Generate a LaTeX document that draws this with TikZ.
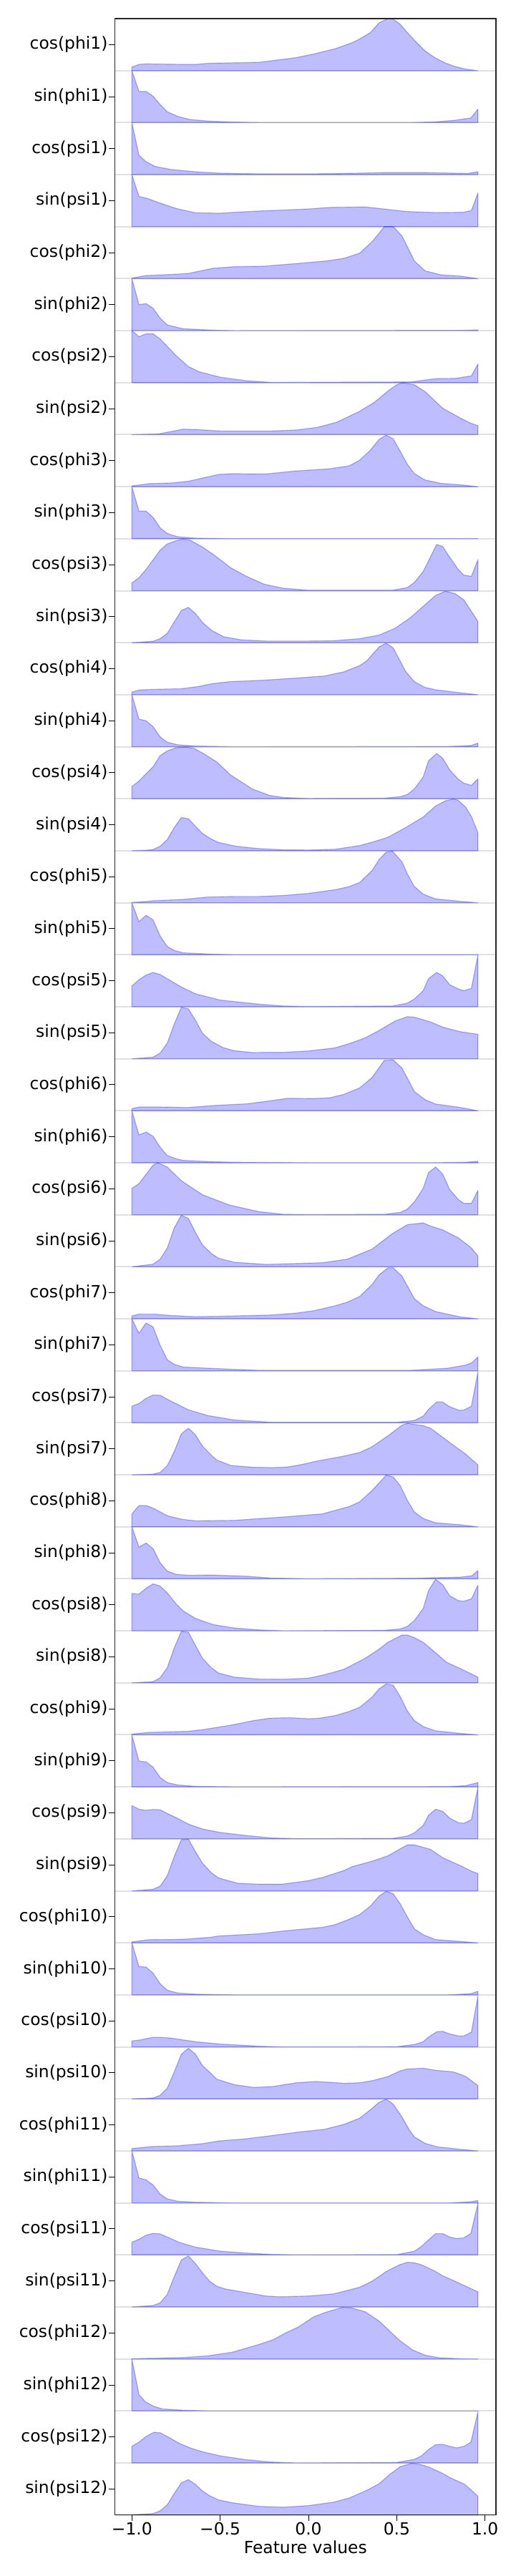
\documentclass[tikz,border=0pt]{standalone}
\usepackage{fontspec}
\setmainfont{DejaVu Sans}
\usepackage{tikz}
\usetikzlibrary{calc}
% one ridge: #1 row number, #2 label, #3 points (x, height in rows)
\newcommand{\tikzRidge}[3]{
  \draw[gridline] (-1.0958,1-#1) -- (1.062,1-#1);
  \begin{scope}[shift={(0,1-#1)}]
    \filldraw[ridge] (-1,0) -- plot coordinates {#3} -- (0.96,0) -- cycle;
  \end{scope}
  \draw[axtick] (-1.0958,1.5-#1) -- ++(-4.2pt,0) node[ylab] (r#1) {#2};
}

\begin{document}
\begin{tikzpicture}[x=123.35pt, y=36.34pt,
  ridge/.style={fill=blue, fill opacity=0.26, draw=blue, draw opacity=0.3, line width=0.6pt, line join=round},
  gridline/.style={draw=black!12, line width=1pt},
  axframe/.style={draw=black!85, line width=0.6pt},
  axtick/.style={draw=black, line width=0.5pt},
  ylab/.style={anchor=east, inner sep=0.7pt, font=\fontsize{11.7}{14}\selectfont},
  xlab/.style={anchor=north, inner sep=1pt, font=\fontsize{11.7}{14}\selectfont}]
  \useasboundingbox (-1.7471,1.358) rectangle (1.1715,-48.174);

  %residue 1
  \tikzRidge{1}{cos(phi1)}{(-1,0.07) (-0.96,0.12) (-0.92,0.13) (-0.71,0.12) (-0.64,0.12) (-0.57,0.14) (-0.42,0.15) (-0.28,0.16) (-0.14,0.22) (-0.07,0.25) (0.03,0.32) (0.15,0.42) (0.25,0.54) (0.29,0.61) (0.35,0.73) (0.40,0.92) (0.45,1) (0.48,0.99) (0.52,0.89) (0.56,0.73) (0.61,0.55) (0.66,0.38) (0.72,0.24) (0.78,0.14) (0.83,0.08) (0.89,0.03) (0.96,0)}
  \tikzRidge{2}{sin(phi1)}{(-1,1) (-0.96,0.6) (-0.92,0.6) (-0.88,0.51) (-0.84,0.35) (-0.80,0.21) (-0.74,0.12) (-0.67,0.06) (-0.57,0.03) (-0.42,0.01) (-0.28,0) (0.58,0) (0.72,0.014) (0.83,0.046) (0.92,0.09) (0.96,0.26)}
  \tikzRidge{3}{cos(psi1)}{(-1,1) (-0.96,0.37) (-0.92,0.25) (-0.87,0.16) (-0.78,0.10) (-0.64,0.055) (-0.5,0.028) (-0.28,0.014) (0,0.014) (0.29,0.028) (0.43,0.04) (0.65,0.04) (0.90,0.023) (0.96,0.055)}
  \tikzRidge{4}{sin(psi1)}{(-1,1) (-0.96,0.58) (-0.91,0.54) (-0.85,0.465) (-0.75,0.35) (-0.64,0.267) (-0.5,0.258) (-0.42,0.276) (-0.28,0.30) (0,0.34) (0.12,0.37) (0.32,0.38) (0.46,0.327) (0.56,0.29) (0.72,0.27) (0.876,0.276) (0.923,0.31) (0.96,0.65)}

  %residue 2
  \tikzRidge{5}{cos(phi2)}{(-1,0.01) (-0.92,0.06) (-0.78,0.08) (-0.68,0.10) (-0.54,0.2) (-0.42,0.23) (-0.25,0.24) (-0.07,0.29) (0.10,0.34) (0.2,0.39) (0.29,0.49) (0.36,0.71) (0.43,1) (0.48,1) (0.53,0.82) (0.60,0.34) (0.66,0.15) (0.75,0.074) (0.86,0.05) (0.96,0)}
  \tikzRidge{6}{sin(phi2)}{(-1,1) (-0.96,0.50) (-0.92,0.52) (-0.88,0.43) (-0.84,0.24) (-0.80,0.11) (-0.71,0.037) (-0.57,0.014) (-0.42,0) (0.86,0.005) (0.96,0.014)}
  \tikzRidge{7}{cos(psi2)}{(-1,1) (-0.96,0.885) (-0.92,0.94) (-0.88,0.94) (-0.84,0.84) (-0.80,0.70) (-0.75,0.52) (-0.68,0.31) (-0.62,0.21) (-0.5,0.105) (-0.35,0.037) (-0.21,0.005) (0.58,0.014) (0.72,0.078) (0.83,0.083) (0.923,0.13) (0.96,0.36)}
  \tikzRidge{8}{sin(psi2)}{(-1,0) (-0.85,0.014) (-0.80,0.046) (-0.71,0.106) (-0.64,0.10) (-0.5,0.07) (-0.21,0.07) (-0.07,0.09) (0.05,0.14) (0.16,0.24) (0.29,0.45) (0.376,0.63) (0.45,0.84) (0.50,0.96) (0.533,1) (0.60,0.96) (0.66,0.83) (0.76,0.51) (0.86,0.32) (0.92,0.22) (0.96,0.175)}

  %residue 3
  \tikzRidge{9}{cos(phi3)}{(-1,0.014) (-0.90,0.06) (-0.78,0.07) (-0.68,0.105) (-0.51,0.235) (-0.44,0.25) (-0.24,0.245) (-0.08,0.30) (0.12,0.345) (0.23,0.40) (0.29,0.51) (0.35,0.70) (0.40,0.91) (0.44,0.99) (0.48,0.92) (0.52,0.68) (0.56,0.43) (0.60,0.25) (0.66,0.13) (0.75,0.064) (0.86,0.037) (0.96,0)}
  \tikzRidge{10}{sin(phi3)}{(-1,1) (-0.96,0.53) (-0.92,0.53) (-0.88,0.41) (-0.84,0.21) (-0.80,0.10) (-0.74,0.037) (-0.64,0.01) (-0.42,0) (0.96,0)}
  \tikzRidge{11}{cos(psi3)}{(-1,0.15) (-0.96,0.25) (-0.92,0.41) (-0.84,0.78) (-0.80,0.90) (-0.75,0.96) (-0.71,0.995) (-0.67,0.97) (-0.60,0.84) (-0.54,0.70) (-0.44,0.44) (-0.35,0.275) (-0.25,0.124) (-0.14,0.046) (0,0.01) (0.476,0.01) (0.56,0.06) (0.60,0.16) (0.65,0.37) (0.726,0.89) (0.76,0.85) (0.80,0.645) (0.85,0.40) (0.88,0.30) (0.923,0.276) (0.96,0.60)}
  \tikzRidge{12}{sin(psi3)}{(-1,0) (-0.88,0.028) (-0.84,0.078) (-0.80,0.18) (-0.72,0.62) (-0.68,0.68) (-0.64,0.56) (-0.60,0.39) (-0.55,0.24) (-0.48,0.115) (-0.38,0.055) (-0.24,0.032) (0,0.032) (0.15,0.04) (0.29,0.078) (0.40,0.147) (0.49,0.276) (0.58,0.49) (0.65,0.70) (0.72,0.91) (0.776,0.99) (0.83,0.945) (0.88,0.825) (0.96,0.41)}

  %residue 4
  \tikzRidge{13}{cos(phi4)}{(-1,0.05) (-0.96,0.09) (-0.91,0.10) (-0.72,0.115) (-0.62,0.16) (-0.55,0.21) (-0.45,0.25) (-0.25,0.28) (-0.05,0.325) (0.09,0.36) (0.20,0.44) (0.29,0.56) (0.33,0.65) (0.40,0.92) (0.44,0.99) (0.48,0.90) (0.55,0.45) (0.60,0.25) (0.66,0.14) (0.72,0.096) (0.86,0.037) (0.96,0)}
  \tikzRidge{14}{sin(phi4)}{(-1,1) (-0.96,0.53) (-0.92,0.50) (-0.88,0.385) (-0.84,0.19) (-0.80,0.087) (-0.74,0.037) (-0.64,0.014) (-0.42,0) (0.79,0.005) (0.92,0.023) (0.96,0.07)}
  \tikzRidge{15}{cos(psi4)}{(-1,0.235) (-0.96,0.34) (-0.92,0.48) (-0.88,0.615) (-0.84,0.83) (-0.80,0.92) (-0.75,0.98) (-0.70,0.995) (-0.65,0.97) (-0.60,0.88) (-0.52,0.71) (-0.44,0.455) (-0.32,0.19) (-0.22,0.064) (-0.14,0.023) (0,0.005) (0.43,0.01) (0.52,0.04) (0.56,0.08) (0.60,0.19) (0.65,0.42) (0.68,0.73) (0.726,0.87) (0.76,0.78) (0.80,0.555) (0.85,0.37) (0.88,0.30) (0.923,0.257) (0.96,0.385)}
  \tikzRidge{16}{sin(psi4)}{(-1,0) (-0.92,0.01) (-0.88,0.023) (-0.84,0.087) (-0.80,0.215) (-0.76,0.445) (-0.72,0.64) (-0.68,0.615) (-0.64,0.47) (-0.60,0.33) (-0.55,0.225) (-0.51,0.16) (-0.41,0.087) (-0.28,0.04) (-0.14,0.018) (0,0.014) (0.15,0.028) (0.29,0.10) (0.376,0.18) (0.45,0.26) (0.55,0.445) (0.65,0.65) (0.72,0.86) (0.776,0.96) (0.82,0.995) (0.846,0.975) (0.89,0.84) (0.924,0.65) (0.96,0.345)}

  %residue 5
  \tikzRidge{17}{cos(phi5)}{(-1,0.005) (-0.88,0.037) (-0.71,0.064) (-0.57,0.11) (-0.42,0.12) (-0.28,0.12) (-0.14,0.14) (0,0.18) (0.15,0.25) (0.23,0.31) (0.29,0.39) (0.36,0.62) (0.40,0.83) (0.44,0.975) (0.476,0.99) (0.53,0.785) (0.56,0.555) (0.60,0.31) (0.65,0.165) (0.72,0.074) (0.86,0.028) (0.96,0)}
  \tikzRidge{18}{sin(phi5)}{(-1,1) (-0.96,0.635) (-0.92,0.76) (-0.88,0.67) (-0.84,0.36) (-0.80,0.16) (-0.76,0.083) (-0.71,0.037) (-0.57,0.014) (-0.42,0) (0.96,0)}
  \tikzRidge{19}{cos(psi5)}{(-1,0.40) (-0.96,0.52) (-0.92,0.61) (-0.88,0.66) (-0.84,0.62) (-0.80,0.54) (-0.72,0.38) (-0.64,0.25) (-0.5,0.128) (-0.28,0.05) (-0.14,0.014) (0,0.005) (0.476,0.014) (0.56,0.07) (0.60,0.15) (0.65,0.31) (0.68,0.54) (0.726,0.66) (0.76,0.595) (0.80,0.425) (0.85,0.34) (0.88,0.31) (0.923,0.355) (0.96,1.0)}
  \tikzRidge{20}{sin(psi5)}{(-1,0) (-0.88,0.032) (-0.84,0.11) (-0.80,0.30) (-0.76,0.67) (-0.72,0.99) (-0.68,0.96) (-0.64,0.74) (-0.60,0.49) (-0.55,0.335) (-0.48,0.21) (-0.42,0.156) (-0.32,0.12) (-0.14,0.124) (0,0.15) (0.15,0.21) (0.23,0.29) (0.32,0.40) (0.40,0.545) (0.49,0.725) (0.56,0.81) (0.60,0.80) (0.69,0.71) (0.76,0.61) (0.86,0.52) (0.96,0.47)}

  %residue 6
  \tikzRidge{21}{cos(phi6)}{(-1,0.04) (-0.96,0.073) (-0.85,0.073) (-0.68,0.064) (-0.52,0.105) (-0.35,0.133) (-0.22,0.19) (-0.12,0.24) (0.03,0.235) (0.12,0.25) (0.20,0.315) (0.29,0.44) (0.36,0.64) (0.43,0.97) (0.48,0.98) (0.53,0.82) (0.60,0.37) (0.66,0.215) (0.72,0.13) (0.86,0.064) (0.96,0)}
  \tikzRidge{22}{sin(phi6)}{(-1,1) (-0.96,0.535) (-0.92,0.59) (-0.88,0.51) (-0.84,0.30) (-0.80,0.14) (-0.75,0.078) (-0.71,0.046) (-0.57,0.023) (-0.42,0.01) (0,0) (0.72,0) (0.89,0.01) (0.96,0.028)}
  \tikzRidge{23}{cos(psi6)}{(-1,0.51) (-0.96,0.60) (-0.924,0.76) (-0.88,0.955) (-0.853,1.0) (-0.80,0.92) (-0.72,0.655) (-0.60,0.385) (-0.45,0.19) (-0.28,0.06) (-0.14,0.01) (0,0.005) (0.43,0.01) (0.52,0.046) (0.56,0.11) (0.60,0.25) (0.65,0.51) (0.68,0.81) (0.72,0.92) (0.76,0.785) (0.80,0.485) (0.85,0.29) (0.88,0.22) (0.923,0.22) (0.96,0.47)}
  \tikzRidge{24}{sin(psi6)}{(-1,0) (-0.88,0.05) (-0.84,0.147) (-0.80,0.36) (-0.76,0.75) (-0.72,0.99) (-0.68,0.93) (-0.64,0.66) (-0.60,0.42) (-0.55,0.257) (-0.51,0.165) (-0.42,0.087) (-0.24,0.046) (0.08,0.078) (0.22,0.147) (0.36,0.34) (0.476,0.64) (0.56,0.81) (0.65,0.845) (0.69,0.785) (0.76,0.71) (0.85,0.555) (0.92,0.37) (0.96,0.21)}

  %residue 7
  \tikzRidge{25}{cos(phi7)}{(-1,0.055) (-0.96,0.09) (-0.87,0.09) (-0.78,0.064) (-0.64,0.04) (-0.42,0.055) (-0.21,0.073) (-0.07,0.11) (0.03,0.155) (0.15,0.25) (0.22,0.32) (0.29,0.43) (0.36,0.66) (0.40,0.845) (0.45,0.98) (0.48,0.98) (0.53,0.82) (0.60,0.385) (0.65,0.25) (0.72,0.14) (0.86,0.037) (0.96,0)}
  \tikzRidge{26}{sin(phi7)}{(-1,1) (-0.96,0.72) (-0.92,0.92) (-0.88,0.845) (-0.84,0.49) (-0.80,0.215) (-0.76,0.124) (-0.71,0.073) (-0.57,0.05) (-0.42,0.028) (-0.28,0.01) (0.58,0.01) (0.79,0.05) (0.89,0.11) (0.926,0.156) (0.96,0.27)}
  \tikzRidge{27}{cos(psi7)}{(-1,0.32) (-0.96,0.37) (-0.92,0.47) (-0.88,0.535) (-0.84,0.53) (-0.78,0.42) (-0.68,0.25) (-0.57,0.14) (-0.42,0.055) (-0.21,0.01) (0.50,0.01) (0.60,0.046) (0.65,0.13) (0.68,0.26) (0.726,0.40) (0.76,0.40) (0.80,0.31) (0.85,0.245) (0.88,0.245) (0.923,0.32) (0.96,0.985)}
  \tikzRidge{28}{sin(psi7)}{(-1,0) (-0.88,0.014) (-0.84,0.046) (-0.80,0.175) (-0.76,0.45) (-0.72,0.79) (-0.68,0.895) (-0.64,0.77) (-0.60,0.55) (-0.55,0.38) (-0.52,0.285) (-0.44,0.18) (-0.32,0.147) (-0.21,0.138) (-0.12,0.15) (-0.04,0.197) (0.05,0.266) (0.20,0.36) (0.29,0.43) (0.36,0.54) (0.45,0.75) (0.53,0.955) (0.56,0.99) (0.65,0.945) (0.69,0.90) (0.76,0.725) (0.80,0.62) (0.89,0.40) (0.96,0.19)}

  %residue 8
  \tikzRidge{29}{cos(phi8)}{(-1,0.25) (-0.96,0.41) (-0.92,0.41) (-0.88,0.36) (-0.80,0.215) (-0.72,0.147) (-0.64,0.115) (-0.42,0.124) (-0.14,0.19) (0.08,0.25) (0.23,0.39) (0.29,0.48) (0.36,0.70) (0.41,0.88) (0.44,0.995) (0.48,0.96) (0.52,0.79) (0.56,0.51) (0.60,0.285) (0.65,0.16) (0.72,0.078) (0.86,0.04) (0.96,0)}
  \tikzRidge{30}{sin(phi8)}{(-1,1) (-0.96,0.61) (-0.92,0.69) (-0.88,0.58) (-0.84,0.31) (-0.80,0.15) (-0.75,0.087) (-0.68,0.069) (-0.54,0.073) (-0.35,0.05) (-0.21,0.014) (0,0) (0.58,0.01) (0.86,0.032) (0.926,0.06) (0.96,0.16)}
  \tikzRidge{31}{cos(psi8)}{(-1,0.72) (-0.96,0.705) (-0.92,0.82) (-0.88,0.905) (-0.84,0.86) (-0.80,0.73) (-0.75,0.52) (-0.71,0.385) (-0.64,0.24) (-0.54,0.12) (-0.42,0.055) (-0.28,0.018) (-0.14,0) (0.43,0.01) (0.52,0.037) (0.56,0.087) (0.60,0.20) (0.65,0.43) (0.68,0.775) (0.72,0.99) (0.76,0.89) (0.80,0.675) (0.85,0.58) (0.88,0.57) (0.923,0.615) (0.96,0.88)}
  \tikzRidge{32}{sin(psi8)}{(-1,0) (-0.88,0.023) (-0.84,0.10) (-0.80,0.29) (-0.76,0.675) (-0.72,0.99) (-0.68,0.975) (-0.64,0.72) (-0.60,0.47) (-0.55,0.29) (-0.51,0.19) (-0.42,0.11) (-0.28,0.073) (-0.14,0.069) (0,0.09) (0.09,0.156) (0.20,0.26) (0.32,0.47) (0.40,0.65) (0.45,0.78) (0.53,0.92) (0.56,0.92) (0.60,0.87) (0.65,0.78) (0.72,0.58) (0.78,0.40) (0.86,0.275) (0.96,0.11)}

  %residue 9
  \tikzRidge{33}{cos(phi9)}{(-1,0.014) (-0.91,0.046) (-0.68,0.069) (-0.60,0.10) (-0.45,0.18) (-0.31,0.275) (-0.22,0.32) (-0.11,0.33) (0,0.31) (0.06,0.32) (0.15,0.37) (0.23,0.45) (0.29,0.53) (0.36,0.725) (0.40,0.885) (0.44,0.98) (0.48,0.955) (0.52,0.735) (0.56,0.46) (0.60,0.275) (0.65,0.16) (0.72,0.078) (0.86,0.028) (0.96,0)}
  \tikzRidge{34}{sin(phi9)}{(-1,1) (-0.96,0.495) (-0.92,0.48) (-0.88,0.38) (-0.84,0.18) (-0.80,0.083) (-0.74,0.037) (-0.64,0.01) (-0.42,0) (0.79,0.005) (0.89,0.023) (0.96,0.083)}
  \tikzRidge{35}{cos(psi9)}{(-1,0.64) (-0.96,0.57) (-0.92,0.55) (-0.88,0.565) (-0.84,0.56) (-0.80,0.49) (-0.75,0.41) (-0.68,0.285) (-0.60,0.19) (-0.50,0.124) (-0.35,0.064) (-0.21,0.018) (-0.07,0.005) (0.476,0.01) (0.56,0.055) (0.60,0.115) (0.65,0.26) (0.68,0.455) (0.72,0.57) (0.76,0.53) (0.80,0.40) (0.85,0.31) (0.88,0.30) (0.923,0.37) (0.96,1.0)}
  \tikzRidge{36}{sin(psi9)}{(-1,0) (-0.88,0.032) (-0.84,0.09) (-0.80,0.29) (-0.76,0.665) (-0.72,0.985) (-0.68,0.995) (-0.64,0.755) (-0.60,0.53) (-0.55,0.35) (-0.51,0.25) (-0.40,0.147) (-0.28,0.128) (-0.15,0.128) (0,0.197) (0.08,0.26) (0.20,0.39) (0.25,0.47) (0.36,0.57) (0.45,0.675) (0.52,0.81) (0.56,0.885) (0.60,0.885) (0.69,0.80) (0.76,0.64) (0.87,0.47) (0.926,0.375) (0.96,0.335)}

  %residue 10
  \tikzRidge{37}{cos(phi10)}{(-1,0.018) (-0.91,0.06) (-0.71,0.069) (-0.55,0.11) (-0.51,0.133) (-0.28,0.175) (-0.14,0.23) (0.08,0.30) (0.15,0.35) (0.23,0.455) (0.29,0.545) (0.35,0.705) (0.40,0.90) (0.44,0.99) (0.48,0.945) (0.52,0.75) (0.56,0.50) (0.60,0.27) (0.65,0.156) (0.72,0.064) (0.86,0.028) (0.96,0)}
  \tikzRidge{38}{sin(phi10)}{(-1,1) (-0.96,0.545) (-0.92,0.535) (-0.88,0.42) (-0.84,0.215) (-0.80,0.09) (-0.74,0.037) (-0.64,0.014) (-0.42,0) (0.79,0) (0.92,0.023) (0.96,0.07)}
  \tikzRidge{39}{cos(psi10)}{(-1,0.115) (-0.96,0.13) (-0.88,0.185) (-0.84,0.185) (-0.78,0.17) (-0.64,0.10) (-0.50,0.055) (-0.28,0.014) (-0.14,0) (0.50,0.005) (0.60,0.046) (0.65,0.10) (0.68,0.19) (0.726,0.29) (0.76,0.30) (0.80,0.25) (0.85,0.21) (0.88,0.21) (0.923,0.285) (0.96,0.985)}
  \tikzRidge{40}{sin(psi10)}{(-1,0) (-0.88,0.018) (-0.84,0.07) (-0.80,0.205) (-0.76,0.52) (-0.72,0.86) (-0.68,0.975) (-0.64,0.86) (-0.60,0.64) (-0.55,0.485) (-0.52,0.38) (-0.42,0.275) (-0.31,0.22) (-0.20,0.24) (-0.07,0.31) (0.04,0.335) (0.12,0.32) (0.20,0.30) (0.29,0.31) (0.36,0.35) (0.45,0.43) (0.52,0.54) (0.56,0.575) (0.65,0.59) (0.72,0.55) (0.82,0.52) (0.89,0.435) (0.96,0.255)}

  %residue 11
  \tikzRidge{41}{cos(phi11)}{(-1,0.046) (-0.88,0.087) (-0.75,0.096) (-0.60,0.14) (-0.51,0.19) (-0.35,0.235) (-0.22,0.29) (-0.05,0.365) (0.09,0.415) (0.20,0.51) (0.29,0.63) (0.35,0.79) (0.40,0.935) (0.44,0.995) (0.48,0.90) (0.53,0.65) (0.57,0.41) (0.60,0.27) (0.66,0.147) (0.73,0.078) (0.86,0.032) (0.96,0)}
  \tikzRidge{42}{sin(phi11)}{(-1,1) (-0.96,0.48) (-0.92,0.445) (-0.88,0.345) (-0.84,0.17) (-0.80,0.078) (-0.74,0.032) (-0.64,0.014) (-0.42,0) (0.79,0) (0.92,0.023) (0.96,0.046)}
  \tikzRidge{43}{cos(psi11)}{(-1,0.245) (-0.96,0.30) (-0.92,0.38) (-0.88,0.415) (-0.84,0.405) (-0.80,0.345) (-0.73,0.24) (-0.64,0.15) (-0.50,0.073) (-0.36,0.037) (-0.21,0.01) (-0.07,0) (0.50,0.005) (0.60,0.073) (0.64,0.165) (0.68,0.29) (0.72,0.41) (0.76,0.41) (0.80,0.345) (0.84,0.315) (0.88,0.33) (0.92,0.415) (0.96,1.0)}
  \tikzRidge{44}{sin(psi11)}{(-1,0) (-0.88,0.027) (-0.84,0.08) (-0.80,0.24) (-0.76,0.585) (-0.72,0.905) (-0.68,0.98) (-0.64,0.835) (-0.60,0.655) (-0.56,0.495) (-0.52,0.40) (-0.47,0.345) (-0.36,0.28) (-0.24,0.21) (-0.16,0.195) (0,0.21) (0.14,0.25) (0.20,0.30) (0.29,0.38) (0.36,0.495) (0.44,0.68) (0.515,0.81) (0.56,0.86) (0.60,0.85) (0.64,0.81) (0.71,0.70) (0.76,0.60) (0.83,0.495) (0.96,0.29)}

  %residue 12
  \tikzRidge{45}{cos(phi12)}{(-1,0.005) (-0.71,0.027) (-0.57,0.06) (-0.43,0.13) (-0.28,0.28) (-0.20,0.37) (-0.13,0.50) (-0.06,0.61) (0.03,0.81) (0.10,0.90) (0.19,0.99) (0.24,0.985) (0.32,0.91) (0.40,0.73) (0.515,0.36) (0.586,0.18) (0.66,0.073) (0.74,0.023) (0.86,0.005) (0.95,0)}
  \tikzRidge{46}{sin(phi12)}{(-1,1) (-0.96,0.315) (-0.925,0.18) (-0.88,0.096) (-0.83,0.04) (-0.71,0.014) (-0.57,0) (0.935,0)}
  \tikzRidge{47}{cos(psi12)}{(-1,0.32) (-0.96,0.40) (-0.92,0.51) (-0.875,0.59) (-0.84,0.58) (-0.80,0.51) (-0.73,0.375) (-0.67,0.29) (-0.60,0.215) (-0.50,0.137) (-0.355,0.064) (-0.21,0.018) (-0.07,0) (0.50,0.01) (0.60,0.07) (0.64,0.137) (0.68,0.26) (0.72,0.35) (0.76,0.36) (0.80,0.32) (0.84,0.29) (0.88,0.32) (0.92,0.40) (0.96,0.99)}
  \tikzRidge{48}{sin(psi12)}{(-1,0.005) (-0.88,0.027) (-0.84,0.08) (-0.80,0.195) (-0.76,0.415) (-0.72,0.62) (-0.68,0.68) (-0.64,0.59) (-0.605,0.475) (-0.56,0.37) (-0.51,0.29) (-0.43,0.235) (-0.28,0.165) (-0.14,0.15) (0,0.18) (0.14,0.245) (0.23,0.325) (0.33,0.475) (0.40,0.60) (0.46,0.78) (0.52,0.93) (0.585,0.995) (0.63,0.975) (0.68,0.925) (0.76,0.80) (0.80,0.72) (0.88,0.60) (0.92,0.485) (0.96,0.36)}

  %axes and x ticks
  \draw[axframe] (-1.0958,-47) rectangle (1.062,1);
  \foreach \v/\t [count=\i] in {-1/{−1.0},-0.5/{−0.5},0/{0.0},0.5/{0.5},1/{1.0}}
    \draw[axtick] (\v,-47) -- ++(0,-4.2pt) node[xlab] (xt\i) {\t};
  \node[font=\fontsize{11.7}{14}\selectfont] (xname) at (-0.017,-47.624) {Feature values};
\end{tikzpicture}
\end{document}
